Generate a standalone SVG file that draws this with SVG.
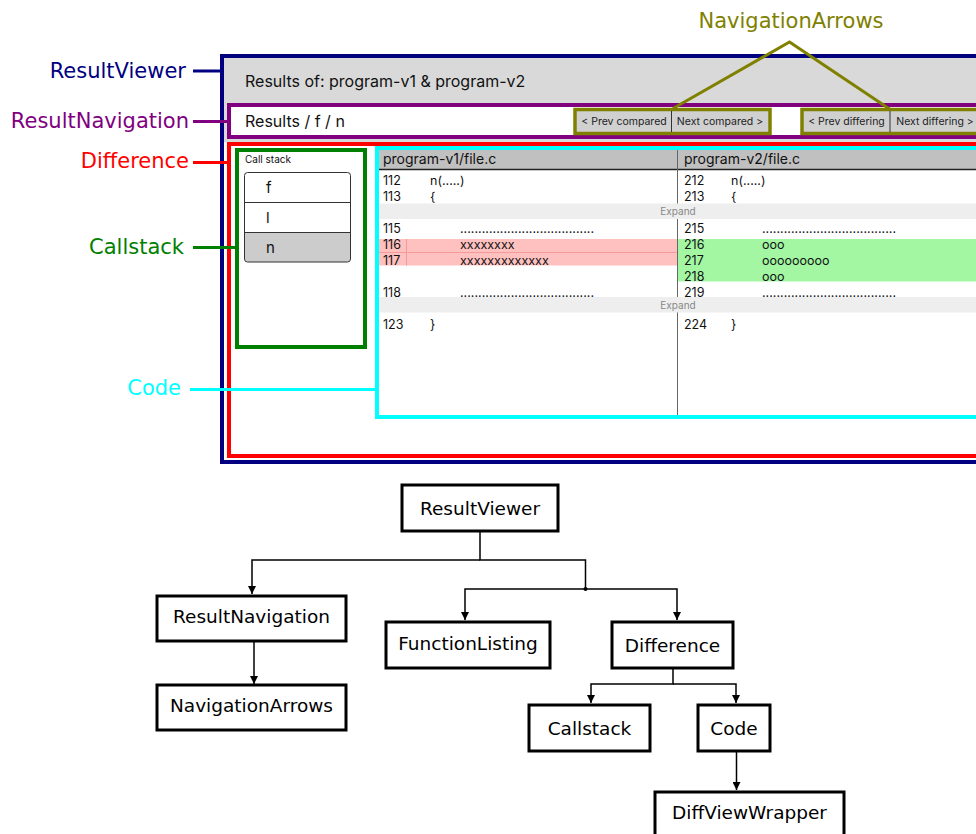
<svg xmlns="http://www.w3.org/2000/svg" width="976" height="834" viewBox="0 0 976 834">
<style>
.lbl{font-family:"DejaVu Sans",sans-serif;font-size:21px;text-anchor:end}
.ui{font-family:Inter,"Liberation Sans",sans-serif;fill:#111}
.code{font-family:Inter,"Liberation Sans",sans-serif;font-size:12.5px;fill:#111}
.exp{font-family:Inter,"Liberation Sans",sans-serif;font-size:10px;fill:#888;text-anchor:middle}
.btn{font-family:Inter,"Liberation Sans",sans-serif;font-size:10.5px;fill:#222;text-anchor:middle}
.node rect{fill:#fff;stroke:#000;stroke-width:3}
.node text{font-family:"DejaVu Sans",sans-serif;font-size:18.5px;text-anchor:middle;fill:#000}
.conn{fill:none;stroke:#000;stroke-width:1.5}
</style>
<defs>
<marker id="ah" viewBox="0 0 10 10" refX="10" refY="5" markerWidth="8" markerHeight="8" markerUnits="userSpaceOnUse" orient="auto">
<path d="M0,0 L10,5 L0,10 z" fill="#000"/>
</marker>
</defs>
<rect width="976" height="834" fill="#fff"/>

<!-- UI mockup -->
<g id="mock-resultviewer">
<rect x="222" y="56" width="770" height="406" fill="#fff" stroke="#000080" stroke-width="4"/>
<rect x="224" y="58" width="766" height="84" fill="#d9d9d9"/>
<text class="ui" x="245" y="87" font-size="16">Results of: program-v1 &amp; program-v2</text>
</g>
<g id="mock-resultnavigation">
<rect x="229" y="105" width="760" height="32" fill="#fff" stroke="#800080" stroke-width="4"/>
<text class="ui" x="245" y="127" font-size="16">Results / f / n</text>
</g>
<g id="mock-navigationarrows">
<rect x="575" y="109.5" width="195" height="24" fill="#d0d0d0" stroke="#808000" stroke-width="3.5"/>
<line x1="671.5" y1="111" x2="671.5" y2="132" stroke="#333" stroke-width="1"/>
<text class="btn" x="624" y="125">&lt; Prev compared</text>
<text class="btn" x="720" y="125">Next compared &gt;</text>
<rect x="802" y="109.5" width="190" height="24" fill="#d0d0d0" stroke="#808000" stroke-width="3.5"/>
<line x1="890" y1="111" x2="890" y2="132" stroke="#333" stroke-width="1"/>
<text class="btn" x="846.5" y="125">&lt; Prev differing</text>
<text class="btn" x="935" y="125">Next differing &gt;</text>
</g>
<g id="mock-difference">
<rect x="229" y="144" width="760" height="312" fill="#fff" stroke="#ff0000" stroke-width="4"/>
</g>
<g id="mock-callstack">
<rect x="237" y="150" width="128" height="197" fill="#fff" stroke="#008000" stroke-width="4"/>
<text class="ui" x="245" y="163" font-size="10">Call stack</text>
<path d="M245,232.5 H350 V259 a3,3 0 0 1 -3,3 H248 a3,3 0 0 1 -3,-3 z" fill="#cccccc"/>
<rect x="244.5" y="172.5" width="106" height="89.5" rx="3" fill="none" stroke="#333" stroke-width="1"/>
<line x1="245" y1="202.5" x2="350" y2="202.5" stroke="#333" stroke-width="1"/>
<line x1="245" y1="232.5" x2="350" y2="232.5" stroke="#333" stroke-width="1"/>
<text class="ui" x="266" y="193" font-size="15">f</text>
<text class="ui" x="266" y="223" font-size="15">l</text>
<text class="ui" x="266" y="253" font-size="15">n</text>
</g>
<g id="mock-code">
<rect x="377" y="148" width="612" height="269" fill="#fff" stroke="#00ffff" stroke-width="4"/>
<rect x="379" y="150" width="600" height="19" fill="#c0c0c0"/>
<line x1="379" y1="169.5" x2="979" y2="169.5" stroke="#222" stroke-width="1.5"/>
<line x1="677.5" y1="150" x2="677.5" y2="415" stroke="#666" stroke-width="1"/>
<text class="ui" x="383" y="164" font-size="14">program-v1/file.c</text>
<text class="ui" x="684" y="164" font-size="14">program-v2/file.c</text>
<!-- changed rows -->
<rect x="379" y="239" width="298" height="26.5" fill="#ffc0c0"/>
<line x1="379" y1="252.5" x2="677" y2="252.5" stroke="#f59a9a" stroke-width="1"/>
<line x1="406.5" y1="239" x2="406.5" y2="265.5" stroke="#f59a9a" stroke-width="1"/>
<rect x="678" y="239" width="300" height="42.5" fill="#a3f7a3"/>
<!-- expand bands -->
<rect x="379" y="203.5" width="600" height="15.5" fill="#eeeeee"/>
<text class="exp" x="678" y="215">Expand</text>
<rect x="379" y="297" width="600" height="15.5" fill="#eeeeee"/>
<text class="exp" x="678" y="308.5">Expand</text>
<!-- left lines -->
<text class="code" x="383" y="185">112</text><text class="code" x="430" y="185">n(.....)</text>
<text class="code" x="383" y="201">113</text><text class="code" x="430" y="201">{</text>
<text class="code" x="383" y="233">115</text><text class="code" x="460" y="233" textLength="134" lengthAdjust="spacing">.....................................</text>
<text class="code" x="383" y="249">116</text><text class="code" x="460" y="249">xxxxxxxx</text>
<text class="code" x="383" y="265">117</text><text class="code" x="460" y="265">xxxxxxxxxxxxx</text>
<text class="code" x="383" y="297">118</text><text class="code" x="460" y="297" textLength="134" lengthAdjust="spacing">.....................................</text>
<text class="code" x="383" y="329">123</text><text class="code" x="430" y="329">}</text>
<!-- right lines -->
<text class="code" x="684" y="185">212</text><text class="code" x="731" y="185">n(.....)</text>
<text class="code" x="684" y="201">213</text><text class="code" x="731" y="201">{</text>
<text class="code" x="684" y="233">215</text><text class="code" x="762" y="233" textLength="134" lengthAdjust="spacing">.....................................</text>
<text class="code" x="684" y="249">216</text><text class="code" x="762" y="249">ooo</text>
<text class="code" x="684" y="265">217</text><text class="code" x="762" y="265">ooooooooo</text>
<text class="code" x="684" y="281">218</text><text class="code" x="762" y="281">ooo</text>
<text class="code" x="684" y="297">219</text><text class="code" x="762" y="297" textLength="134" lengthAdjust="spacing">.....................................</text>
<text class="code" x="684" y="329">224</text><text class="code" x="731" y="329">}</text>
</g>

<!-- callout labels -->
<g id="label-resultviewer">
<text class="lbl" x="186" y="78" fill="#000080">ResultViewer</text>
<line x1="193" y1="71" x2="222" y2="71" stroke="#000080" stroke-width="3"/>
</g>
<g id="label-resultnavigation">
<text class="lbl" x="189" y="128" fill="#800080">ResultNavigation</text>
<line x1="193" y1="121.5" x2="229" y2="121.5" stroke="#800080" stroke-width="3"/>
</g>
<g id="label-difference">
<text class="lbl" x="189" y="168" fill="#ff0000">Difference</text>
<line x1="193" y1="162.5" x2="229" y2="162.5" stroke="#ff0000" stroke-width="3"/>
</g>
<g id="label-callstack">
<text class="lbl" x="184" y="254" fill="#008000">Callstack</text>
<line x1="193" y1="247.5" x2="237" y2="247.5" stroke="#008000" stroke-width="3"/>
</g>
<g id="label-code">
<text class="lbl" x="181" y="395" fill="#00ffff">Code</text>
<line x1="190" y1="389.5" x2="377" y2="389.5" stroke="#00ffff" stroke-width="3"/>
</g>
<g id="label-navigationarrows">
<text x="791" y="28" font-family="DejaVu Sans,sans-serif" font-size="21" fill="#808000" text-anchor="middle">NavigationArrows</text>
<polyline points="673,108.5 789.5,42 891,110" fill="none" stroke="#808000" stroke-width="3"/>
</g>

<!-- tree connectors -->
<g id="connectors">
<path class="conn" d="M480,531 V560 H585.5 V589"/>
<path class="conn" d="M480,560 H252 V594" marker-end="url(#ah)"/>
<path class="conn" d="M585.5,589 H465 V620" marker-end="url(#ah)"/>
<path class="conn" d="M585.5,589 H677 V620" marker-end="url(#ah)"/>
<circle cx="585.5" cy="589" r="2" fill="#000"/>
<path class="conn" d="M254,641 V684" marker-end="url(#ah)"/>
<path class="conn" d="M673,669 V684 H591 V703" marker-end="url(#ah)"/>
<path class="conn" d="M673,684 H736 V703" marker-end="url(#ah)"/>
<path class="conn" d="M736.5,752 V790" marker-end="url(#ah)"/>
</g>

<!-- tree nodes -->
<g id="node-resultviewer" class="node">
<rect x="402" y="485" width="156" height="46"/>
<text x="480" y="515">ResultViewer</text>
</g>
<g id="node-resultnavigation" class="node">
<rect x="157" y="596" width="189" height="45"/>
<text x="251.5" y="623">ResultNavigation</text>
</g>
<g id="node-navigationarrows" class="node">
<rect x="157" y="685" width="189" height="45"/>
<text x="251.5" y="712">NavigationArrows</text>
</g>
<g id="node-functionlisting" class="node">
<rect x="386" y="622" width="164" height="46"/>
<text x="468" y="650">FunctionListing</text>
</g>
<g id="node-difference" class="node">
<rect x="612" y="622" width="121" height="46"/>
<text x="672.5" y="652">Difference</text>
</g>
<g id="node-callstack" class="node">
<rect x="529" y="705" width="121" height="46"/>
<text x="589.5" y="735">Callstack</text>
</g>
<g id="node-code" class="node">
<rect x="698" y="705" width="72" height="46"/>
<text x="734" y="735">Code</text>
</g>
<g id="node-diffviewwrapper" class="node">
<rect x="655" y="792" width="189" height="46"/>
<text x="749.5" y="819">DiffViewWrapper</text>
</g>
</svg>
